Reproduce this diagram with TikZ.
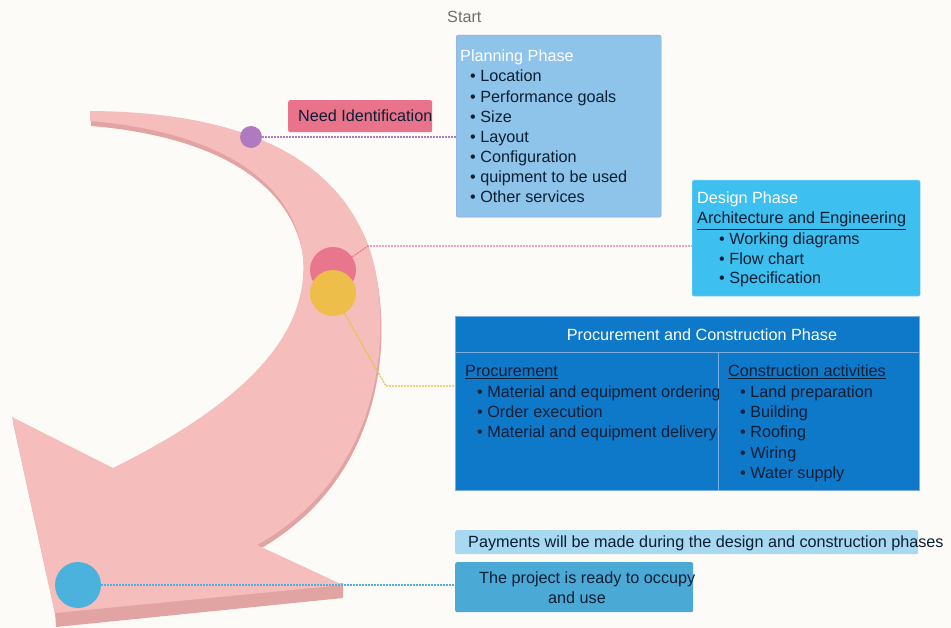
\documentclass[tikz,border=0pt]{standalone}
\usepackage{fontspec}
\setmainfont{Liberation Sans}
\usetikzlibrary{positioning, calc}

\definecolor{bgcream}{HTML}{FDFBF7}
\definecolor{arrowpink}{HTML}{F5BDBB}
\definecolor{arrowshade}{HTML}{E2A3A3}
\definecolor{dotpurple}{HTML}{B07AC0}
\definecolor{dotpink}{HTML}{E8778E}
\definecolor{dotyellow}{HTML}{EDBE4A}
\definecolor{dotblue}{HTML}{4BB2DE}
\definecolor{needfill}{HTML}{E8738B}
\definecolor{planfill}{HTML}{8EC3EA}
\definecolor{planedge}{HTML}{A59BDC}
\definecolor{designfill}{HTML}{3DBFEF}
\definecolor{designedge}{HTML}{86D6F3}
\definecolor{procfill}{HTML}{0E78C9}
\definecolor{procedge}{HTML}{7AAEE0}
\definecolor{payfill}{HTML}{A8D9F2}
\definecolor{readyfill}{HTML}{4BA9D6}
\definecolor{inkdark}{HTML}{0C1E33}
\definecolor{inkgray}{HTML}{6E6E6E}

\newcommand{\bendarrow}{(90,111) .. controls (230,112) and (335,150) .. (370,250)
  .. controls (392,320) and (390,470) .. (257,545) -- (343,585) -- (55,613)
  -- (12,417) -- (113,468) .. controls (230,410) and (315,340) .. (302,250)
  .. controls (288,170) and (200,130) .. (90,121) -- cycle}

\tikzset{
  lbl/.style={anchor=base west, inner sep=0pt, font=\fontsize{16.2}{20}\selectfont, text=inkdark},
  lblw/.style={lbl, text=white},
  box/.style={anchor=north west, inner sep=0pt, rounded corners=2pt},
  dot/.style={circle, inner sep=0pt},
  link/.style={dash pattern=on 2pt off 1pt, line width=1.2pt},
}

\begin{document}
\begin{tikzpicture}[x=1pt, y=-1pt]
    \fill[bgcream] (0,0) rectangle (951,628);
    \useasboundingbox (0,0) rectangle (951,628);

    % curved arrow
    \fill[arrowshade, shift={(1,5)}] \bendarrow;
    \fill[arrowshade] (55,610) -- (343,583) -- (343,598) -- (56,627) -- cycle;
    \fill[arrowpink] \bendarrow;

    % boxes
    \node[box, fill=planfill, draw=planedge, minimum width=205pt, minimum height=182pt] (plan) at (456,35) {};
    \node[box, fill=needfill, minimum width=144pt, minimum height=32pt] (need) at (288,100) {};
    \node[box, fill=designfill, draw=designedge, minimum width=228pt, minimum height=116pt] (design) at (692,180) {};
    \node[box, rounded corners=0pt, fill=procfill, draw=procedge, minimum width=464pt, minimum height=174pt] (proc) at (455,316) {};
    \node[box, fill=payfill, minimum width=463pt, minimum height=24pt] (pay) at (455,530) {};
    \node[box, fill=readyfill, minimum width=238pt, minimum height=50pt] (ready) at (455,562) {};

    \coordinate (hdr) at (455,352);
    \coordinate (split) at (718,352);
    \draw[procedge, line width=0.8pt] (hdr) -- (hdr -| proc.east);
    \draw[procedge, line width=0.8pt] (split) -- (split |- proc.south);

    % dots
    \node[dot, fill=dotpurple, minimum size=22pt] (dotP) at (251,137) {};
    \node[dot, fill=dotpink, minimum size=46pt] (dotR) at (333,270) {};
    \node[dot, fill=dotyellow, minimum size=46pt] (dotY) at (333,293) {};
    \node[dot, fill=dotblue, minimum size=46pt] (dotB) at (78,585) {};

    % links
    \coordinate (kR) at (368,246);
    \coordinate (kY1) at (375,367);
    \coordinate (kY2) at (386,386);
    \draw[link, dotpurple] (dotP) -- (dotP -| plan.west);
    \draw[link, dotpink] (dotR) -- (kR) -- (kR -| design.west);
    \draw[link, dotyellow] (dotY) -- (kY1) -- (kY2) -- (kY2 -| proc.west);
    \draw[link, dotblue] (dotB) -- (dotB -| ready.west);

    % texts
    \node[lbl, text=inkgray] (start) at (447,22.5) {Start};
    \node[lbl] (needtxt) at (298,122) {Need Identification};

    \node[lblw] (plantitle) at (460,62) {Planning Phase};
    \foreach \item [count=\k from 0] in {Location, Performance goals, Size, Layout,
        Configuration, quipment to be used, Other services}
        \node[lbl] (plan\k) at (470,82+20.1*\k) {\textbullet\ \item};

    \node[lblw] (designtitle) at (697,203.5) {Design Phase};
    \node[lbl] (arch) at (697,224) {\underline{Architecture and Engineering}};
    \foreach \item [count=\k from 0] in {Working diagrams, Flow chart, Specification}
        \node[lbl] (design\k) at (719,245+19.5*\k) {\textbullet\ \item};

    \node[lblw, anchor=base] (proctitle) at (702,340.5) {Procurement and Construction Phase};
    \node[lbl] (procure) at (465,377) {\underline{Procurement}};
    \begin{scope}
        \clip (proc.north west) rectangle (split |- proc.south);
        \foreach \item [count=\k from 0] in {Material and equipment ordering, Order execution,
            Material and equipment delivery}
            \node[lbl] (procure\k) at (477,397.5+20.2*\k) {\textbullet\ \item};
    \end{scope}
    \node[lbl] (build) at (728,377) {\underline{Construction activities}};
    \foreach \item [count=\k from 0] in {Land preparation, Building, Roofing, Wiring, Water supply}
        \node[lbl] (build\k) at (740,397.5+20.2*\k) {\textbullet\ \item};

    \node[lbl] (paytxt) at (468,547.5) {Payments will be made during the design and construction phases};
    \node[lbl] (readytxt) at (479,583.5) {The project is ready to occupy};
    \node[lbl, anchor=base] (readytxt2) at (577,603.5) {and use};
\end{tikzpicture}
\end{document}
